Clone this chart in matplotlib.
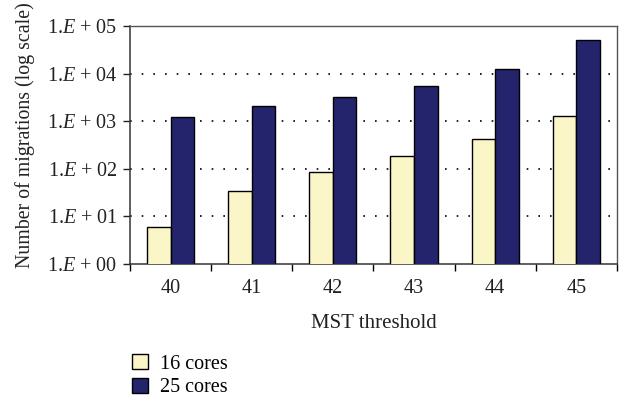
import matplotlib
matplotlib.use("Agg")
import matplotlib.pyplot as plt
import numpy as np
from matplotlib.ticker import FixedLocator, FuncFormatter

plt.rcParams['font.family'] = ['Liberation Serif', 'DejaVu Serif']
plt.rcParams['mathtext.fontset'] = 'custom'
plt.rcParams['mathtext.rm'] = 'Liberation Serif'
plt.rcParams['mathtext.it'] = 'Liberation Serif:italic'

thresholds = ['40', '41', '42', '43', '44', '45']
cores16 = [6.1, 35, 87, 188, 428, 1290]
cores25 = [1230, 2090, 3250, 5570, 12500, 50800]

fig = plt.figure(figsize=(6.25, 4), dpi=100)
ax = fig.add_axes([0.208, 0.34, 0.779, 0.595])

x = np.arange(len(thresholds))
w = 0.29
ax.bar(x - w / 2, cores16, w, color='#FAF6C8', edgecolor='black', linewidth=1.0,
       label='16 cores', zorder=3)
ax.bar(x + w / 2, cores25, w, color='#23246B', edgecolor='black', linewidth=1.0,
       label='25 cores', zorder=3)

ax.set_yscale('log')
ax.set_ylim(1, 1e5)
ax.set_xlim(-0.5, len(thresholds) - 0.5)

ax.yaxis.set_major_locator(FixedLocator([1, 10, 100, 1e3, 1e4, 1e5]))
ax.yaxis.set_minor_locator(FixedLocator([]))
ax.yaxis.set_major_formatter(FuncFormatter(
    lambda v, pos: r'1.$E$ + %02d' % round(np.log10(v))))
for level in [10, 100, 1e3, 1e4]:
    ax.axhline(level, color='black', linestyle=(0, (1, 6)), linewidth=1.2, zorder=1)

ax.set_xticks(x)
ax.set_xticklabels(thresholds)
ax.set_xticks(np.arange(-0.5, len(thresholds)), minor=True)
ax.tick_params(axis='x', which='major', length=0, pad=11)
ax.tick_params(axis='x', which='minor', length=5, direction='out', width=1)
ax.tick_params(axis='y', length=5, direction='out', width=1, pad=4)
ax.tick_params(labelsize=14.5, colors='#222222')

for side in ['left', 'bottom']:
    ax.spines[side].set_linewidth(1.1)
    ax.spines[side].set_color('#333333')
for side in ['top', 'right']:
    ax.spines[side].set_linewidth(1.0)
    ax.spines[side].set_color('#555555')

ax.set_xlabel('MST threshold', fontsize=15, color='#222222', labelpad=11)
ax.set_ylabel('Number of migrations (log scale)', fontsize=14.3, color='#222222')
ax.yaxis.set_label_coords(-0.195, 0.54)

fig.legend(loc='upper left', bbox_to_anchor=(0.198, 0.135), frameon=False,
           fontsize=14.5, handlelength=0.8, handleheight=0.8,
           handletextpad=0.6, labelspacing=0.2, borderaxespad=0)

fig.savefig('out.png', dpi=100)
